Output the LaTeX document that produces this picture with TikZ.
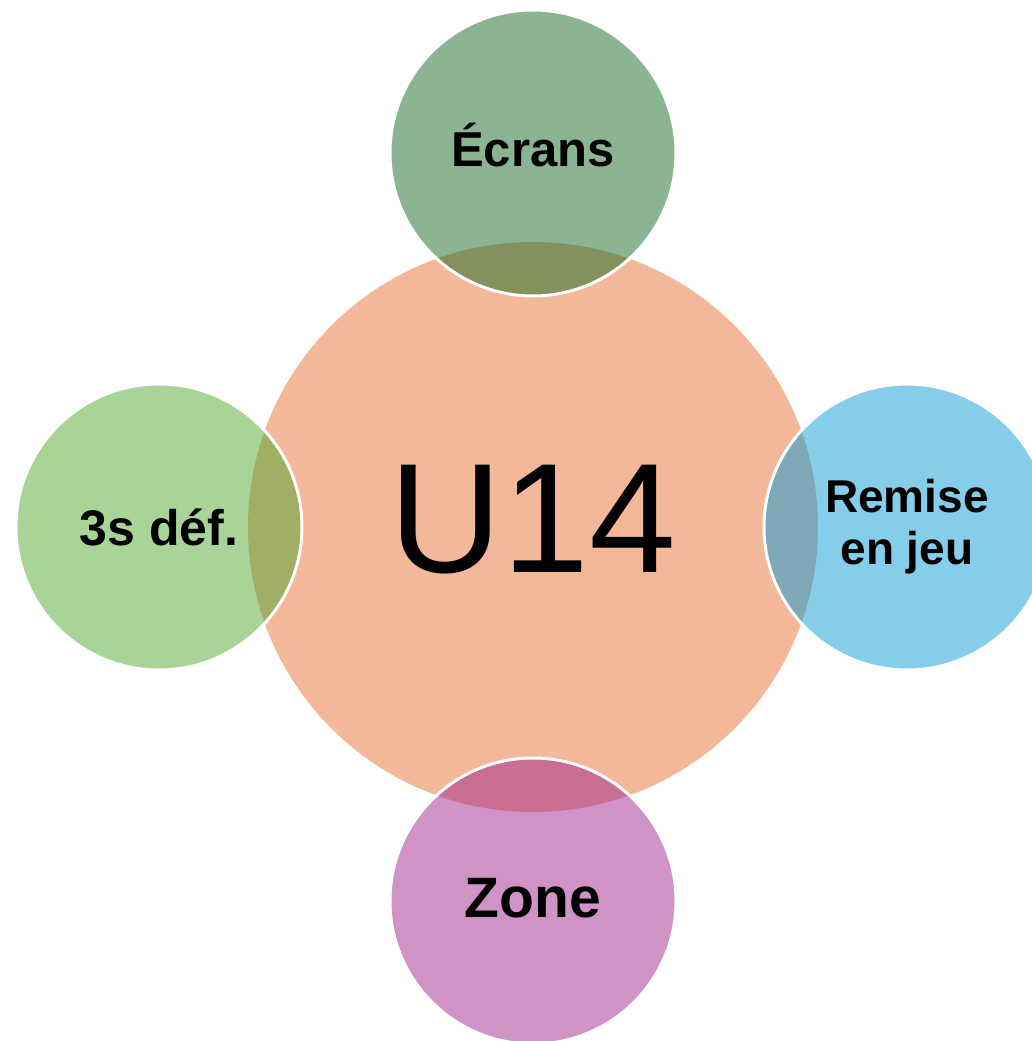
\documentclass[tikz,border=0pt]{standalone}
\usepackage{xcolor}
\usepackage{fontspec}
\setmainfont{Liberation Sans}
\usepackage{tikz}
\usetikzlibrary{shapes,positioning}
\definecolor{hubfill}{HTML}{F3B799}
\definecolor{ecransfill}{HTML}{176B25}
\definecolor{deffill}{HTML}{51A931}
\definecolor{remisefill}{HTML}{0D9BD3}
\definecolor{zonefill}{HTML}{9F278D}
\tikzstyle{hub} = [circle, fill=hubfill, minimum size=570pt, inner sep=0pt, font=\fontsize{156}{156}\selectfont]
\tikzstyle{satellite} = [circle, draw=white, line width=3pt, fill opacity=0.5, draw opacity=1, text opacity=1, minimum size=286pt, inner sep=0pt, align=center]

\begin{document}
\begin{tikzpicture}[node distance = 374pt]
\clip (-533pt,-514pt) rectangle (499pt,527pt);
\node [hub] (u14) {\raisebox{-46pt}[0pt][0pt]{U14}};
\node [satellite, fill=ecransfill, above of=u14, font=\fontsize{49}{49}\selectfont\bfseries] (ecrans) {\raisebox{-14pt}[0pt][0pt]{Écrans}};
\node [satellite, fill=deffill, left of=u14, font=\fontsize{50}{50}\selectfont\bfseries] (def) {3s déf.};
\node [satellite, fill=remisefill, right of=u14, font=\fontsize{46}{52}\selectfont\bfseries] (remise) {Remise\\en jeu};
\node [satellite, fill=zonefill, below of=u14, font=\fontsize{57}{57}\selectfont\bfseries] (zone) {\raisebox{-16pt}[0pt][0pt]{Zone}};
\end{tikzpicture}
\end{document}
